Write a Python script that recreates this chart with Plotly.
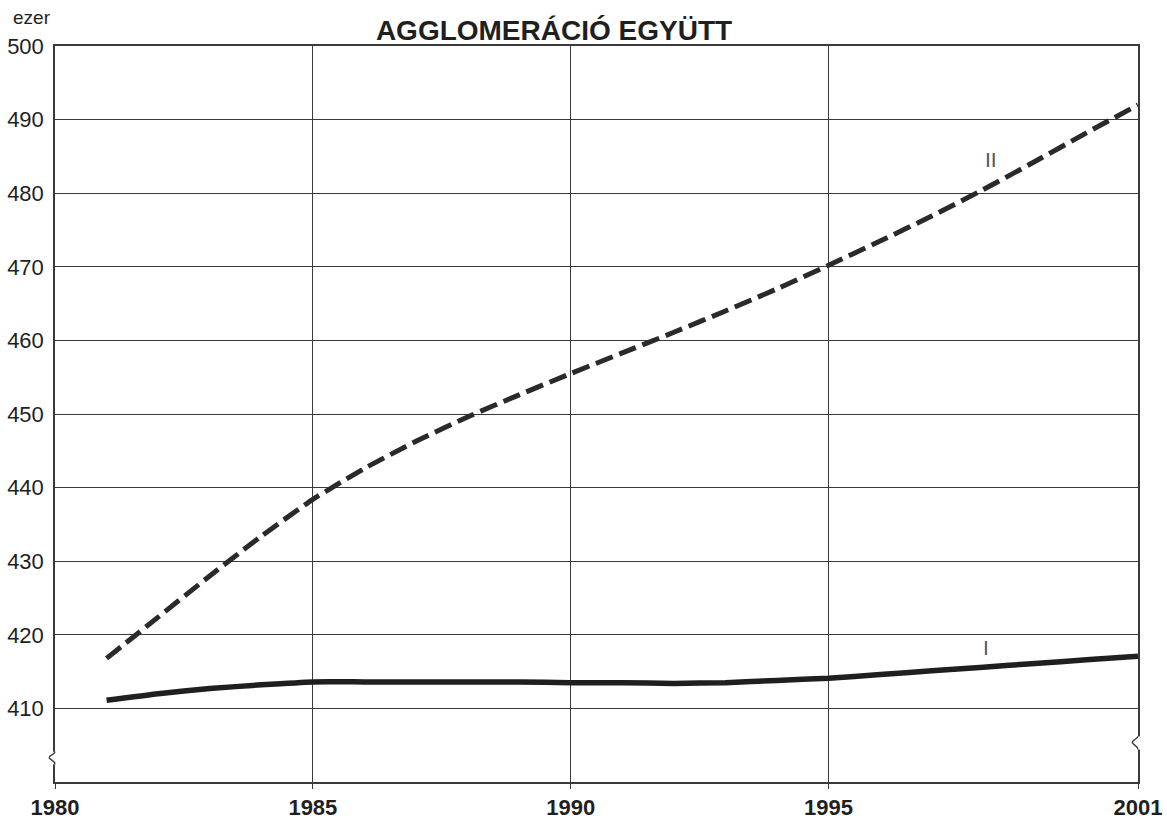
"""
Agglomeráció együtt — population projection, variants I and II (thousands).
"""

import plotly.graph_objects as go

# ── Data ──────────────────────────────────────────────────────────────────────
YEARS = list(range(1981, 2002))

VARIANT_I = [
    411.1, 412.0, 412.7, 413.2, 413.6, 413.6, 413.6, 413.6, 413.6, 413.5,
    413.5, 413.4, 413.5, 413.8, 414.1, 414.6, 415.1, 415.6, 416.1, 416.6,
    417.1,
]

VARIANT_II = [
    416.8, 422.4, 428.0, 433.4, 438.4, 442.6, 446.3, 449.6, 452.6, 455.5,
    458.3, 461.1, 464.0, 467.0, 470.2, 473.5, 476.9, 480.5, 484.3, 488.2,
    492.0,
]

X_TICKS = [1980, 1985, 1990, 1995, 2001]
Y_TICKS = list(range(410, 501, 10))

TITLE = "AGGLOMERÁCIÓ EGYÜTT"
UNIT = "ezer"

FONT = "Liberation Sans, Arial, Helvetica, sans-serif"
INK = "#1f1f1f"
GRID = "#3a3a3a"

W, H = 1167, 823
M = dict(l=55, r=29, t=46, b=41)
PLOT_W = W - M["l"] - M["r"]
PLOT_H = H - M["t"] - M["b"]

# ── Figure ────────────────────────────────────────────────────────────────────
fig = go.Figure()

fig.add_trace(go.Scatter(
    x=YEARS, y=VARIANT_I, mode="lines", name="I",
    line=dict(color=INK, width=5.5, shape="spline", smoothing=0.5),
))
fig.add_trace(go.Scatter(
    x=YEARS, y=VARIANT_II, mode="lines", name="II",
    line=dict(color="#2a2a2a", width=5, dash="18px,7px",
              shape="spline", smoothing=0.5),
))

# axis break marks (decoration), in paper / y-domain units so they aren't clipped
dx = 7 / PLOT_W
for xb, ylo, yhi in ((0.0, 0.024, 0.041), (1.0, 0.044, 0.062)):
    ym = (ylo + yhi) / 2
    fig.add_shape(type="line", xref="paper", yref="y domain",
                  x0=xb, x1=xb, y0=ylo, y1=yhi,
                  line=dict(color="white", width=6), layer="above")
    fig.add_shape(type="path", xref="paper", yref="y domain",
                  path=(f"M {xb},{yhi} "
                        f"C {xb},{yhi-0.004} {xb-dx},{ym+0.004} {xb-dx*0.8},{ym} "
                        f"C {xb-dx*0.6},{ym-0.003} {xb},{ylo+0.005} {xb},{ylo}"),
                  line=dict(color=GRID, width=1.4), layer="above")

fig.add_annotation(x=1998.15, y=484.6, text="II", showarrow=False,
                   font=dict(family=FONT, size=21, color="#555"))
fig.add_annotation(x=1998.05, y=418.3, text="I", showarrow=False,
                   font=dict(family=FONT, size=21, color="#555"))

fig.add_annotation(x=(11 - M["l"]) / PLOT_W, y=(H - M["b"] - 18) / PLOT_H,
                   xref="paper", yref="paper",
                   xanchor="left", yanchor="middle",
                   text=UNIT, showarrow=False,
                   font=dict(family=FONT, size=19, color=INK))

fig.update_layout(
    width=W,
    height=H,
    paper_bgcolor="white",
    plot_bgcolor="white",
    showlegend=False,
    margin=dict(**M, autoexpand=False),
    font=dict(family=FONT, color=INK),
    title=dict(
        text=f"<b>{TITLE}</b>",
        x=554 / W,
        xanchor="center",
        y=1 - 30 / H,
        yanchor="middle",
        font=dict(family=FONT, size=28, color=INK),
    ),
    xaxis=dict(
        range=[1980, 2001],
        tickvals=X_TICKS,
        ticktext=[f"<b>{t}</b>" for t in X_TICKS],
        tickfont=dict(family=FONT, size=22, color=INK),
        ticks="outside",
        ticklen=5,
        tickcolor=GRID,
        showgrid=True,
        gridcolor=GRID,
        gridwidth=1.3,
        showline=True,
        linecolor=GRID,
        linewidth=1.5,
        mirror=True,
        zeroline=False,
        automargin=False,
    ),
    yaxis=dict(
        range=[400, 500],
        tickvals=Y_TICKS,
        tickfont=dict(family=FONT, size=22, color=INK),
        ticks="",
        ticklabelstandoff=5,
        showgrid=True,
        gridcolor=GRID,
        gridwidth=1.3,
        showline=True,
        linecolor=GRID,
        linewidth=1.5,
        mirror=True,
        zeroline=False,
        automargin=False,
    ),
)

fig.write_html(
    "out.html",
    config={"displayModeBar": False},
    post_script="document.body.style.margin='0';",
)
